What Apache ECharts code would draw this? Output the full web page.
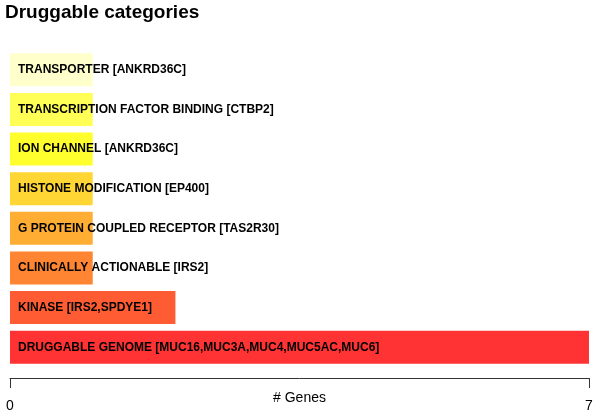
<!DOCTYPE html>
<html><head><meta charset="utf-8">
<script src="https://cdn.jsdelivr.net/npm/echarts@6/dist/echarts.min.js"></script>
<style>html,body{margin:0;padding:0;background:#fff}#c{width:598px;height:413px}</style>
</head><body><div id="c"></div>
<script>
const categories = ["TRANSPORTER [ANKRD36C]","TRANSCRIPTION FACTOR BINDING [CTBP2]","ION CHANNEL [ANKRD36C]","HISTONE MODIFICATION [EP400]","G PROTEIN COUPLED RECEPTOR [TAS2R30]","CLINICALLY ACTIONABLE [IRS2]","KINASE [IRS2,SPDYE1]","DRUGGABLE GENOME [MUC16,MUC3A,MUC4,MUC5AC,MUC6]"];
const values = [1,1,1,1,1,1,2,7];
const colors = ["#FFFFCC","#FFFF55","#FFFF2E","#FFD633","#FFAD33","#FF8533","#FF5C33","#FF3333"];
const xTicks = [0,7];
const chart = echarts.init(document.getElementById('c'));
chart.setOption({
  animation:false,
  title:{text:"Druggable categories",left:5,top:3,padding:0,textStyle:{fontFamily:"Liberation Sans",fontWeight:"bold",fontSize:19,color:"#000"}},
  grid:{left:10,right:9,top:50,bottom:46,outerBoundsMode:'none',containLabel:false},
  xAxis:{type:'value',min:xTicks[0],max:xTicks[1],interval:xTicks[1]-xTicks[0],offset:11,
    axisLine:{show:true,lineStyle:{color:'#333',width:1}},
    axisTick:{show:true,length:10,lineStyle:{color:'#333'}},
    axisLabel:{margin:21,fontFamily:"Liberation Sans",fontSize:14,color:'#000'},
    splitLine:{show:false},
    name:"# Genes",nameLocation:'middle',nameGap:13,nameMoveOverlap:false,nameTextStyle:{fontFamily:"Liberation Sans",fontSize:14,color:'#000'}},
  yAxis:{type:'category',data:categories,inverse:true,show:false},
  series:[{type:'bar',barWidth:33,
    data:values.map((v,i)=>({value:v,itemStyle:{color:colors[i]}})),
    label:{show:true,position:'insideLeft',distance:8,formatter:p=>categories[p.dataIndex],
      fontFamily:"Liberation Sans",fontWeight:'bold',fontSize:12,color:'#000'}}]
});
</script></body></html>
